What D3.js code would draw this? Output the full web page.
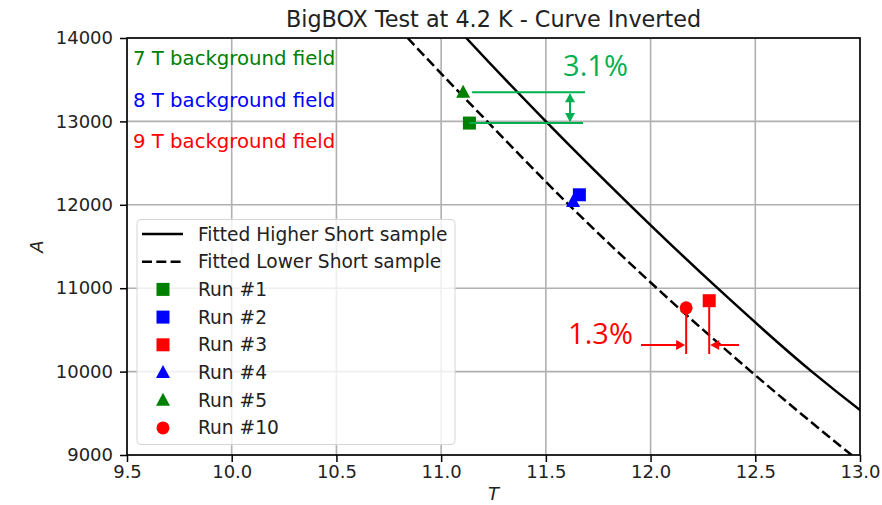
<!DOCTYPE html>
<html>
<head>
<meta charset="utf-8">
<script src="https://cdn.jsdelivr.net/npm/d3@7"></script>
<style>
  html, body { margin: 0; padding: 0; background: #fff; }
  svg { display: block; font-family: "DejaVu Sans", sans-serif; }
</style>
</head>
<body>
<svg id="chart" width="882" height="505"></svg>
<script>
// Fitted short-sample curves (T, A)
const highT = [11.00, 11.12, 11.50, 11.90, 12.32, 12.77, 13.00, 13.10];
const highA = [14330, 14000, 13000, 12000, 11000, 10000, 9540, 9350];
const lowT  = [10.70, 10.84, 11.22, 11.61, 12.03, 12.48, 12.96, 13.05];
const lowA  = [14380, 14000, 13000, 12000, 11000, 10000, 9000, 8820];

// Measured runs
const runNames  = ["Run #1", "Run #2", "Run #3", "Run #4", "Run #5", "Run #10"];
const runT      = [11.135, 11.66, 12.28, 11.63, 11.105, 12.17];
const runA      = [12980, 12120, 10850, 12040, 13350, 10765];
const runColors = ["#008000", "#0000ff", "#ff0000", "#0000ff", "#008000", "#ff0000"];
const runShapes = ["square", "square", "square", "triangle", "triangle", "circle"];

const xTicks = [9.5, 10.0, 10.5, 11.0, 11.5, 12.0, 12.5, 13.0];
const yTicks = [9000, 10000, 11000, 12000, 13000, 14000];

const fieldLabels = ["7 T background field", "8 T background field", "9 T background field"];
const fieldColors = ["#008000", "#0000ff", "#ff0000"];

const svg = d3.select("#chart");
const pL = 127, pR = 860, pT = 38, pB = 455;
const dash = "10,4.3";

const x = d3.scaleLinear().domain([9.5, 13.0]).range([pL, pR]);
const y = d3.scaleLinear().domain([9000, 14000]).range([pB, pT]);

svg.append("defs").append("clipPath").attr("id", "plotclip")
  .append("rect").attr("x", pL).attr("y", pT)
  .attr("width", pR - pL).attr("height", pB - pT);

// grid
const grid = svg.append("g").attr("stroke", "#b0b0b0").attr("stroke-width", 1.6);
xTicks.forEach(t => grid.append("line")
  .attr("x1", x(t)).attr("x2", x(t)).attr("y1", pT).attr("y2", pB));
yTicks.forEach(t => grid.append("line")
  .attr("x1", pL).attr("x2", pR).attr("y1", y(t)).attr("y2", y(t)));

// curves
const line = d3.line().x(d => x(d[0])).y(d => y(d[1])).curve(d3.curveMonotoneX);
const plot = svg.append("g").attr("clip-path", "url(#plotclip)");
plot.append("path").datum(d3.zip(highT, highA)).attr("d", line)
  .attr("fill", "none").attr("stroke", "#000").attr("stroke-width", 2.5);
plot.append("path").datum(d3.zip(lowT, lowA)).attr("d", line)
  .attr("fill", "none").attr("stroke", "#000").attr("stroke-width", 2.5)
  .attr("stroke-dasharray", dash);

// markers
function drawMarker(g, shape, cx, cy, color) {
  if (shape === "square") {
    g.append("rect").attr("x", cx - 6.5).attr("y", cy - 6.5)
      .attr("width", 13).attr("height", 13).attr("fill", color);
  } else if (shape === "triangle") {
    g.append("path").attr("d", `M${cx},${cy - 7.5}L${cx + 7},${cy + 5.5}L${cx - 7},${cy + 5.5}Z`)
      .attr("fill", color);
  } else {
    g.append("circle").attr("cx", cx).attr("cy", cy).attr("r", 6.5).attr("fill", color);
  }
}
const marks = svg.append("g");
runNames.forEach((n, i) => drawMarker(marks, runShapes[i], x(runT[i]), y(runA[i]), runColors[i]));

// axes
const xAxis = d3.axisBottom(x).tickValues(xTicks).tickFormat(d3.format(".1f")).tickSize(7).tickPadding(3);
const yAxis = d3.axisLeft(y).tickValues(yTicks).tickFormat(d => d).tickSize(7).tickPadding(7);
const gx = svg.append("g").attr("transform", `translate(0,${pB})`).call(xAxis);
const gy = svg.append("g").attr("transform", `translate(${pL},0)`).call(yAxis);
[gx, gy].forEach(g => {
  g.select(".domain").remove();
  g.selectAll(".tick line").attr("stroke", "#000").attr("stroke-width", 1.5);
  g.selectAll(".tick text").attr("font-size", 18).attr("fill", "#222")
    .attr("font-family", "DejaVu Sans, sans-serif");
});
svg.append("rect").attr("x", pL).attr("y", pT)
  .attr("width", pR - pL).attr("height", pB - pT)
  .attr("fill", "none").attr("stroke", "#000").attr("stroke-width", 1.6);

// titles
svg.append("text").attr("x", (pL + pR) / 2).attr("y", 27)
  .attr("text-anchor", "middle").attr("font-size", 22.3).attr("fill", "#222")
  .text("BigBOX Test at 4.2 K - Curve Inverted");
svg.append("text").attr("x", (pL + pR) / 2).attr("y", 500)
  .attr("text-anchor", "middle").attr("font-size", 18).attr("font-style", "italic")
  .attr("fill", "#222").text("T");
svg.append("text").attr("transform", `translate(43,${(pT + pB) / 2}) rotate(-90)`)
  .attr("text-anchor", "middle").attr("font-size", 18).attr("font-style", "italic")
  .attr("fill", "#222").text("A");

// background-field labels
fieldLabels.forEach((t, i) => svg.append("text")
  .attr("x", 133).attr("y", 65 + i * 41.5).attr("font-size", 19.7)
  .attr("fill", fieldColors[i]).text(t));

// legend
const lg = svg.append("g");
lg.append("rect").attr("x", 137).attr("y", 219.5).attr("width", 318).attr("height", 225)
  .attr("rx", 4).attr("fill", "rgba(255,255,255,0.8)")
  .attr("stroke", "#d6d6d6").attr("stroke-width", 1);
const legendItems = [
  { label: "Fitted Higher Short sample", kind: "line" },
  { label: "Fitted Lower Short sample", kind: "dash" }
].concat(runNames.map((n, i) => ({ label: n, kind: runShapes[i], color: runColors[i] })));
legendItems.forEach((d, i) => {
  const cy = 234 + i * 27.7;
  if (d.kind === "line" || d.kind === "dash") {
    lg.append("line").attr("x1", 142).attr("x2", 183).attr("y1", cy).attr("y2", cy)
      .attr("stroke", "#000").attr("stroke-width", 2.6)
      .attr("stroke-dasharray", d.kind === "dash" ? dash : null);
  } else {
    drawMarker(lg, d.kind, 163, cy, d.color);
  }
  lg.append("text").attr("x", 198).attr("y", cy + 6.5).attr("font-size", 18.6)
    .attr("fill", "#222").text(d.label);
});

// annotation: 3.1 % gap between runs #5 and #1
const ann = svg.append("g");
const gGreen = "#00b050";
const yUp = y(runA[4]), yLo = y(runA[0]);
ann.append("line").attr("x1", x(runT[4]) + 9).attr("x2", 585).attr("y1", yUp).attr("y2", yUp)
  .attr("stroke", gGreen).attr("stroke-width", 2);
ann.append("line").attr("x1", x(runT[0])).attr("x2", 583).attr("y1", yLo).attr("y2", yLo)
  .attr("stroke", gGreen).attr("stroke-width", 2);
ann.append("line").attr("x1", 570).attr("x2", 570).attr("y1", yUp + 2).attr("y2", yLo - 2)
  .attr("stroke", gGreen).attr("stroke-width", 2);
ann.append("path").attr("d", `M570,${yUp + 1}l-5,9h10Z`).attr("fill", gGreen);
ann.append("path").attr("d", `M570,${yLo - 1}l-5,-9h10Z`).attr("fill", gGreen);
ann.append("text").attr("x", 595.5).attr("y", 76).attr("text-anchor", "middle")
  .attr("font-size", 29).attr("fill", gGreen).attr("font-family", "Open Sans, sans-serif")
  .text("3.1%");

// annotation: 1.3 % shift between runs #10 and #3
const red = "#ff0000";
const xa = x(runT[5]), xb = x(runT[2]), yArr = 345;
ann.append("line").attr("x1", xa).attr("x2", xa).attr("y1", y(runA[5])).attr("y2", 354)
  .attr("stroke", red).attr("stroke-width", 2);
ann.append("line").attr("x1", xb).attr("x2", xb).attr("y1", y(runA[2])).attr("y2", 354)
  .attr("stroke", red).attr("stroke-width", 2);
ann.append("line").attr("x1", 641).attr("x2", xa - 6).attr("y1", yArr).attr("y2", yArr)
  .attr("stroke", red).attr("stroke-width", 2);
ann.append("path").attr("d", `M${xa - 1},${yArr}l-9,-5v10Z`).attr("fill", red);
ann.append("line").attr("x1", 739).attr("x2", xb + 6).attr("y1", yArr).attr("y2", yArr)
  .attr("stroke", red).attr("stroke-width", 2);
ann.append("path").attr("d", `M${xb + 1},${yArr}l9,-5v10Z`).attr("fill", red);
ann.append("text").attr("x", 600.5).attr("y", 344).attr("text-anchor", "middle")
  .attr("font-size", 29).attr("fill", red).attr("font-family", "Open Sans, sans-serif")
  .text("1.3%");
</script>
</body>
</html>
